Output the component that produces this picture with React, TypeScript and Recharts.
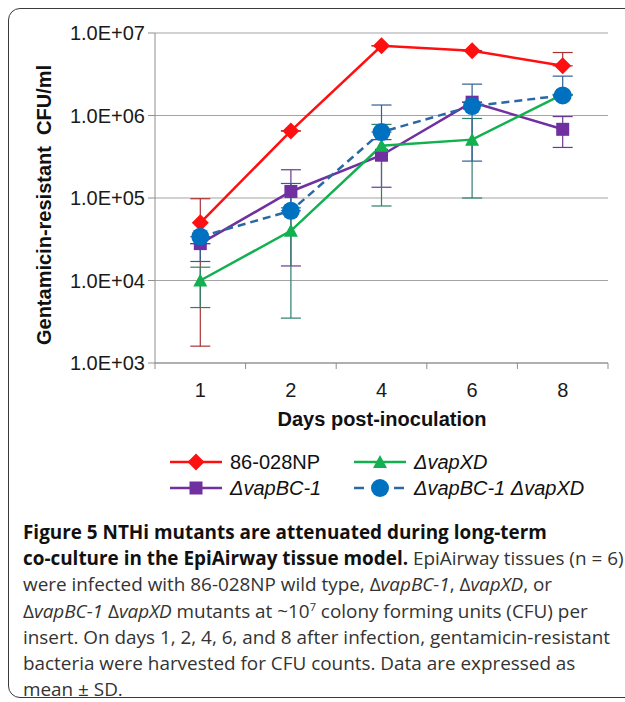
import { CartesianGrid, ErrorBar, Line, LineChart, XAxis, YAxis } from "recharts";

const DAYS = ["1", "2", "4", "6", "8"];

// 86-028NP wild type
const WT_MEAN = [5.0e4, 6.5e5, 7.0e6, 6.1e6, 4.0e6];
const WT_LOW = [1.6e3, 6.5e5, 7.0e6, 6.1e6, 4.0e6];
const WT_HIGH = [9.8e4, 6.5e5, 7.0e6, 6.1e6, 5.8e6];

// ΔvapBC-1
const BC_MEAN = [2.8e4, 1.2e5, 3.3e5, 1.45e6, 6.8e5];
const BC_LOW = [2.8e4, 1.5e4, 1.35e5, 1.45e6, 4.1e5];
const BC_HIGH = [2.8e4, 2.2e5, 5.1e5, 1.45e6, 9.7e5];

// ΔvapXD
const XD_MEAN = [1.0e4, 4.0e4, 4.3e5, 5.1e5, 1.8e6];
const XD_LOW = [4.7e3, 3.5e3, 8.0e4, 1.0e5, 1.8e6];
const XD_HIGH = [1.45e4, 7.6e4, 7.8e5, 9.2e5, 1.8e6];

// ΔvapBC-1 ΔvapXD
const DBL_MEAN = [3.4e4, 7.0e4, 6.3e5, 1.3e6, 1.75e6];
const DBL_LOW = [1.7e4, 7.0e4, 6.3e5, 2.8e5, 1.75e6];
const DBL_HIGH = [3.4e4, 1.5e5, 1.34e6, 2.4e6, 3.0e6];

const Y_TICKS = [1e3, 1e4, 1e5, 1e6, 1e7];

const err = (mean: number[], lo: number[], hi: number[], i: number) => [mean[i] - lo[i], hi[i] - mean[i]];

const data = DAYS.map((day, i) => ({
  day,
  wt: WT_MEAN[i],
  wtErr: err(WT_MEAN, WT_LOW, WT_HIGH, i),
  bc: BC_MEAN[i],
  bcErr: err(BC_MEAN, BC_LOW, BC_HIGH, i),
  xd: XD_MEAN[i],
  xdErr: err(XD_MEAN, XD_LOW, XD_HIGH, i),
  dbl: DBL_MEAN[i],
  dblErr: err(DBL_MEAN, DBL_LOW, DBL_HIGH, i),
}));

const RED = "#ff1010";
const PURPLE = "#7030a0";
const GREEN = "#12b050";
const BLUE = "#0070c0";
const AXIS = "#8e8e8e";
const FONT = "'Liberation Sans', Arial, sans-serif";

const PLOT_LEFT = 155;
const PLOT_RIGHT = 608;
const BAND = (PLOT_RIGHT - PLOT_LEFT) / DAYS.length;

function Diamond({ cx, cy, key }: any) {
  const r = 8.5;
  return <path key={key} d={`M${cx},${cy - r}L${cx + r},${cy}L${cx},${cy + r}L${cx - r},${cy}Z`} fill={RED} />;
}
function Square({ cx, cy, key }: any) {
  return <rect key={key} x={cx - 6.5} y={cy - 6.5} width={13} height={13} fill={PURPLE} />;
}
function Triangle({ cx, cy, key }: any) {
  return <path key={key} d={`M${cx},${cy - 7}L${cx + 7},${cy + 6}L${cx - 7},${cy + 6}Z`} fill={GREEN} />;
}
function Circle({ cx, cy, key }: any) {
  return <circle key={key} cx={cx} cy={cy} r={9} fill={BLUE} />;
}

// category labels centred, tick marks on the band edges (Excel style)
function DayTick({ x, y, payload, index }: any) {
  return (
    <g>
      <line x1={x - BAND / 2} x2={x - BAND / 2} y1={y} y2={y + 6} stroke={AXIS} />
      {index === DAYS.length - 1 && <line x1={x + BAND / 2} x2={x + BAND / 2} y1={y} y2={y + 6} stroke={AXIS} />}
      <text x={x} y={y + 27} textAnchor="middle" dominantBaseline="central" fontSize={20} fill="#1a1a1a" fontFamily={FONT}>
        {payload.value}
      </text>
    </g>
  );
}

function LegendItem({ color, dashed, marker, label, italic }: any) {
  return (
    <div style={{ display: "flex", alignItems: "center", height: 26 }}>
      <svg width={56} height={20} style={{ marginRight: 6 }}>
        <line x1={2} x2={54} y1={10} y2={10} stroke={color} strokeWidth={2.5} strokeDasharray={dashed ? "10 30" : undefined} />
        {marker}
      </svg>
      <span style={{ fontStyle: italic ? "italic" : "normal" }}>{label}</span>
    </div>
  );
}

export default function App() {
  return (
    <div style={{ position: "absolute", left: 0, top: 0, width: 625, height: 702, background: "#fff", overflow: "hidden" }}>
      <div
        style={{
          position: "absolute",
          left: 8,
          top: 8,
          width: 660,
          height: 688,
          border: "1.5px solid #3a3a3a",
          borderRadius: 12,
        }}
      />
      <LineChart width={625} height={430} data={data} margin={{ top: 33, right: 625 - PLOT_RIGHT, bottom: 37, left: 0 }}>
        <CartesianGrid vertical={false} stroke="#a4a4a4" strokeWidth={1.2} />
        <XAxis
          dataKey="day"
          type="category"
          height={30}
          padding={{ left: BAND / 2, right: BAND / 2 }}
          stroke={AXIS}
          tickLine={false}
          tickSize={0}
          tickMargin={0}
          tick={<DayTick />}
          interval={0}
        />
        <YAxis
          type="number"
          scale="log"
          domain={[1e3, 1e7]}
          ticks={Y_TICKS}
          allowDataOverflow
          width={PLOT_LEFT}
          stroke={AXIS}
          tickSize={7}
          tickMargin={3}
          tick={{ fontSize: 20, fill: "#1a1a1a", fontFamily: FONT }}
          tickFormatter={(v: number) => `1.0E+0${Math.round(Math.log10(v))}`}
        />
        <Line dataKey="wt" stroke={RED} strokeWidth={2.5} dot={Diamond} activeDot={false} isAnimationActive={false}>
          <ErrorBar dataKey="wtErr" width={10} stroke="#a83232" strokeWidth={1.2} direction="y" />
        </Line>
        <Line dataKey="bc" stroke={PURPLE} strokeWidth={2.5} dot={Square} activeDot={false} isAnimationActive={false}>
          <ErrorBar dataKey="bcErr" width={10} stroke="#6a3a8f" strokeWidth={1.2} direction="y" />
        </Line>
        <Line dataKey="xd" stroke={GREEN} strokeWidth={2.5} dot={Triangle} activeDot={false} isAnimationActive={false}>
          <ErrorBar dataKey="xdErr" width={10} stroke="#2e7f6c" strokeWidth={1.2} direction="y" />
        </Line>
        <Line
          dataKey="dbl"
          stroke="#2a68a4"
          strokeWidth={2.5}
          strokeDasharray="8 5"
          dot={Circle}
          activeDot={false}
          isAnimationActive={false}
        >
          <ErrorBar dataKey="dblErr" width={10} stroke="#2f5f96" strokeWidth={1.2} direction="y" />
        </Line>
      </LineChart>

      <div
        style={{
          position: "absolute",
          left: 44,
          top: 205,
          transform: "translate(-50%, -50%) rotate(-90deg)",
          whiteSpace: "pre",
          fontFamily: FONT,
          fontWeight: "bold",
          fontSize: 20,
          color: "#111",
        }}
      >
        Gentamicin-resistant  CFU/ml
      </div>
      <div
        style={{
          position: "absolute",
          left: 382,
          top: 419,
          transform: "translate(-50%, -50%)",
          whiteSpace: "pre",
          fontFamily: FONT,
          fontWeight: "bold",
          fontSize: 20,
          color: "#111",
        }}
      >
        Days post-inoculation
      </div>

      <div
        style={{
          position: "absolute",
          left: 168,
          top: 449,
          display: "grid",
          gridTemplateColumns: "184px auto",
          fontFamily: FONT,
          fontSize: 20,
          color: "#111",
        }}
      >
        <LegendItem color={RED} label="86-028NP" marker={<path d="M28,1.5L36.5,10L28,18.5L19.5,10Z" fill={RED} />} />
        <LegendItem color={GREEN} italic label="ΔvapXD" marker={<path d="M28,3L35,16L21,16Z" fill={GREEN} />} />
        <LegendItem color={PURPLE} italic label="ΔvapBC-1" marker={<rect x={21.5} y={3.5} width={13} height={13} fill={PURPLE} />} />
        <LegendItem color="#2a68a4" dashed italic label="ΔvapBC-1 ΔvapXD" marker={<circle cx={28} cy={10} r={9} fill={BLUE} />} />
      </div>

      <div
        style={{
          position: "absolute",
          left: 23,
          top: 519,
          width: 600,
          fontFamily: "'Open Sans', sans-serif",
          fontSize: 18.9,
          lineHeight: "26.2px",
          color: "#333",
          whiteSpace: "nowrap",
        }}
      >
        <b style={{ color: "#111" }}>Figure 5 NTHi mutants are attenuated during long-term</b>
        <br />
        <b style={{ color: "#111" }}>co-culture in the EpiAirway tissue model.</b> EpiAirway tissues (n = 6)
        <br />
        were infected with 86-028NP wild type, Δ<i>vapBC-1</i>, Δ<i>vapXD</i>, or
        <br />
        Δ<i>vapBC-1</i> Δ<i>vapXD</i> mutants at ~10<sup style={{ fontSize: 11, lineHeight: 0 }}>7</sup> colony forming units
        (CFU) per
        <br />
        insert. On days 1, 2, 4, 6, and 8 after infection, gentamicin-resistant
        <br />
        bacteria were harvested for CFU counts. Data are expressed as
        <br />
        mean ± SD.
      </div>
    </div>
  );
}
